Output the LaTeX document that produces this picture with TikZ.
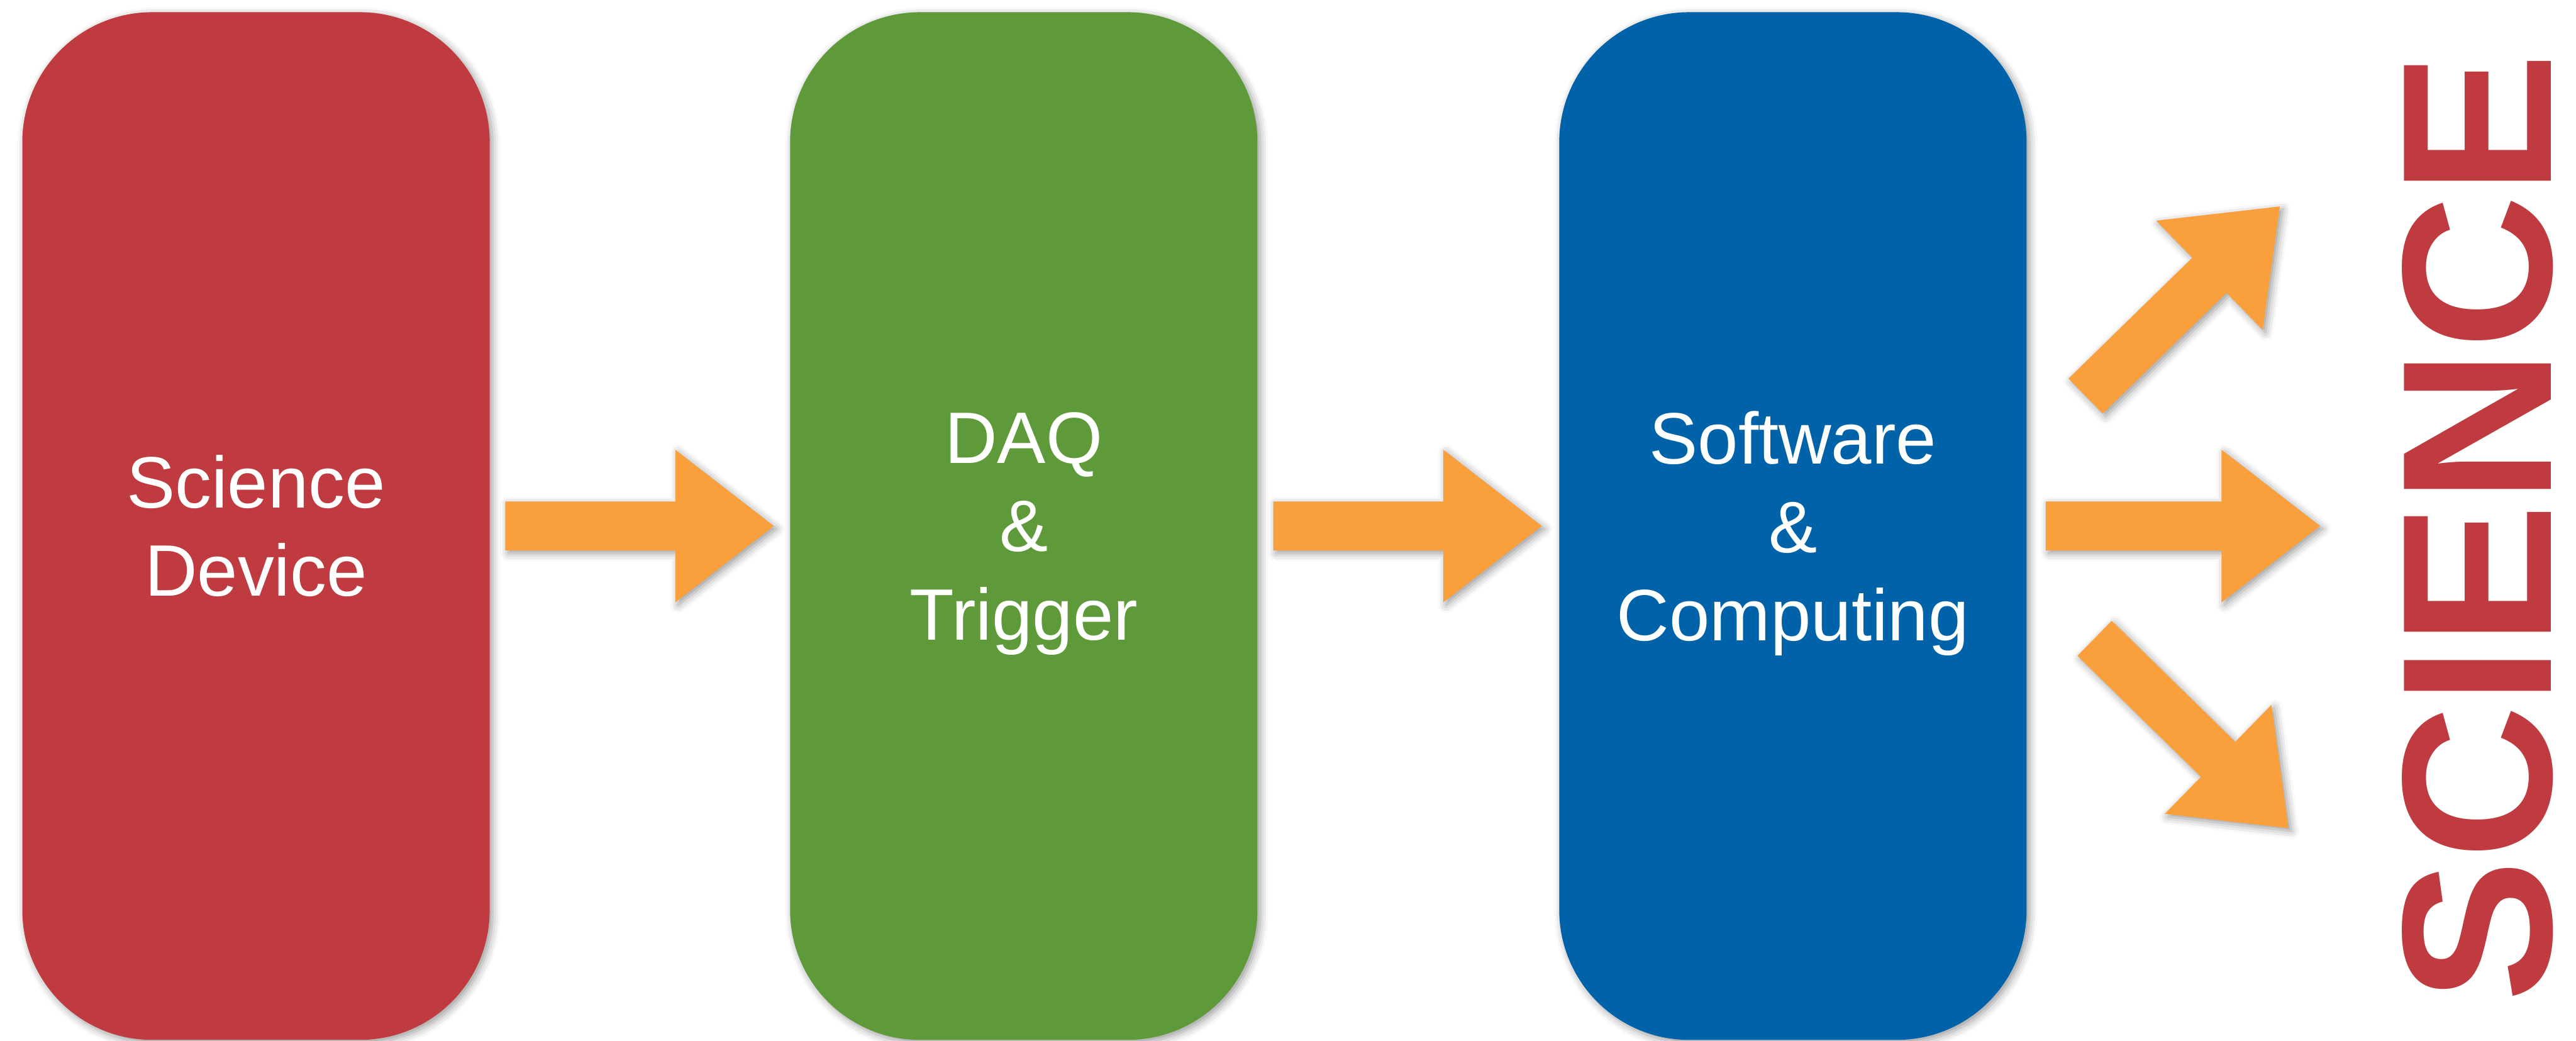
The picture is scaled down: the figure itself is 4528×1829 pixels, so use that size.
\documentclass[tikz,border=0pt]{standalone}
\usepackage{fontspec}
\setmainfont{Liberation Sans}
\usetikzlibrary{shadows.blur}
\definecolor{boxred}{HTML}{BF3B3F}
\definecolor{boxgreen}{HTML}{5E9A3A}
\definecolor{boxblue}{HTML}{0062A8}
\definecolor{arroworange}{HTML}{F9A03C}
\tikzset{
  softshadow/.style={blur shadow={shadow xshift=0.05cm, shadow yshift=-0.05cm, shadow blur radius=0.14cm, shadow opacity=40}},
  stage/.style={rectangle, minimum width=8.21cm, minimum height=18.05cm, rounded corners=2.28cm,
    inner sep=0pt, text=white, font=\fontsize{36.4pt}{44.1pt}\selectfont, align=center, softshadow},
  flowarrow/.style={fill=arroworange, softshadow},
}
\newcommand\blockarrow[4]{%
  \begin{scope}[shift={(#1,#2)}, rotate=#3]
    \fill[flowarrow] (0,-43) -- ({#4-173},-43) -- ({#4-173},-134) -- (#4,0)
      -- ({#4-173},134) -- ({#4-173},43) -- (0,43) -- cycle;
  \end{scope}}
\begin{document}
\begin{tikzpicture}[x=0.01cm, y=-0.01cm]
  \useasboundingbox (0,0) rectangle (4528,1829);
  \node[stage, fill=boxred]   (dev) at (450,924.5)  {Science\\Device};
  \node[stage, fill=boxgreen] (daq) at (1799.5,924.5) {DAQ\\\&\\\raisebox{0pt}[\height][0pt]{Trigger}};
  \node[stage, fill=boxblue]  (sw)  at (3151.5,924.5) {Software\\\&\\\raisebox{0pt}[\height][0pt]{Computing}};
  \blockarrow{888}{924.5}{0}{472}
  \blockarrow{2238}{924.5}{0}{472}
  \blockarrow{3596}{924.5}{0}{482}
  \blockarrow{3666}{696}{44.3}{477}
  \blockarrow{3681.7}{1121.8}{-44.4}{477}
  \node[rotate=90, anchor=base, inner sep=0pt, text=boxred,
        font=\bfseries\fontsize{106.7pt}{110pt}\selectfont] (sci) at (4484,927) {SCIENCE};
\end{tikzpicture}
\end{document}
